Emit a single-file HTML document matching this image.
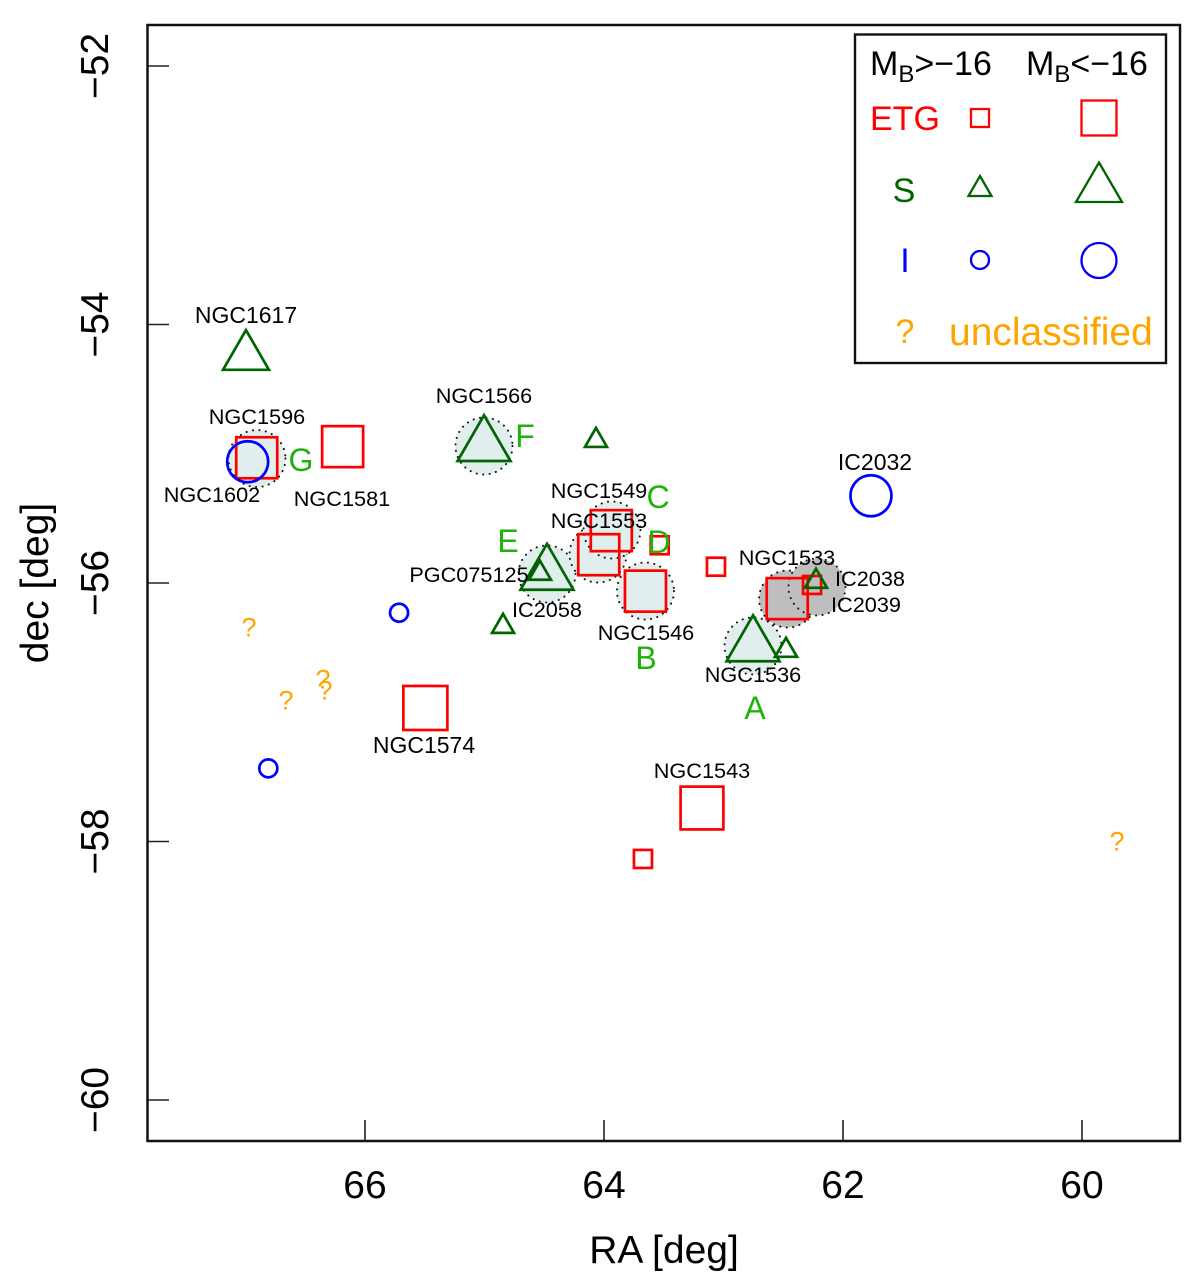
<!DOCTYPE html>
<html lang="en">
<head>
<meta charset="utf-8">
<title>Galaxy positions: RA vs dec</title>
<style>
html,body{margin:0;padding:0;background:#fff;}
svg{display:block;font-family:"Liberation Sans",Arial,sans-serif;}
.lab{font-size:21.7px;fill:#000;text-anchor:middle;}
.big{font-size:23px;}
.grp{font-size:32px;fill:#1eb30a;text-anchor:middle;}
.tick{font-size:39px;fill:#000;text-anchor:middle;}
.leg{font-size:34px;}
</style>
</head>
<body>
<svg id="chart" width="1200" height="1276" viewBox="0 0 1200 1276" xmlns="http://www.w3.org/2000/svg">
  <rect x="0" y="0" width="1200" height="1276" fill="#fff"/>
  <g id="shading"></g>
  <g id="marks"></g>
  <g id="axes"></g>
  <rect x="147.5" y="25" width="1032.5" height="1116" fill="none" stroke="#111" stroke-width="2.5"/>
  <text class="tick" x="664" y="1263">RA [deg]</text>
  <text class="tick" transform="translate(48,583) rotate(-90)">dec [deg]</text>

  <g>
    <text class="lab big" x="246" y="323">NGC1617</text>
    <text class="lab" x="484" y="403">NGC1566</text>
    <text class="lab" x="257" y="424">NGC1596</text>
    <text class="lab" x="212" y="502">NGC1602</text>
    <text class="lab" x="342" y="506">NGC1581</text>
    <text class="lab" x="469" y="582">PGC075125</text>
    <text class="lab" x="547" y="617">IC2058</text>
    <text class="lab" x="599" y="498">NGC1549</text>
    <text class="lab" x="599" y="528">NGC1553</text>
    <text class="lab" x="646" y="640">NGC1546</text>
    <text class="lab" x="787" y="565">NGC1533</text>
    <text class="lab" x="753" y="682">NGC1536</text>
    <text class="lab" x="870" y="586">IC2038</text>
    <text class="lab" x="866" y="612">IC2039</text>
    <text class="lab big" x="875" y="470">IC2032</text>
    <text class="lab big" x="424" y="753">NGC1574</text>
    <text class="lab" x="702" y="778">NGC1543</text>
  </g>

  <g>
    <text class="grp" x="755" y="719">A</text>
    <text class="grp" x="646" y="669">B</text>
    <text class="grp" x="658" y="508">C</text>
    <text class="grp" x="659" y="553">D</text>
    <text class="grp" x="508" y="552">E</text>
    <text class="grp" x="525" y="447">F</text>
    <text class="grp" x="301" y="471">G</text>
  </g>

  <g>
    <rect x="855" y="34.5" width="311" height="328.5" fill="#fff" stroke="#111" stroke-width="2.4"/>
    <text class="leg" x="870" y="75">M<tspan font-size="24" dy="7">B</tspan><tspan dy="-7">&gt;−16</tspan></text>
    <text class="leg" x="1026" y="75">M<tspan font-size="24" dy="7">B</tspan><tspan dy="-7">&lt;−16</tspan></text>
    <text class="leg" x="870" y="130" fill="#f00">ETG</text>
    <rect x="971" y="109" width="18" height="18" fill="none" stroke="#f00" stroke-width="2.3"/>
    <rect x="1081.5" y="100.5" width="35" height="35" fill="none" stroke="#f00" stroke-width="2.3"/>
    <text class="leg" x="904" y="202" fill="#006400" text-anchor="middle">S</text>
    <polygon points="980,176 991.5,196 968.5,196" fill="none" stroke="#006400" stroke-width="2.3"/>
    <polygon points="1099,162.5 1122,202 1076,202" fill="none" stroke="#006400" stroke-width="2.3"/>
    <text class="leg" x="905" y="272" fill="#00f" text-anchor="middle">I</text>
    <circle cx="980" cy="260" r="9" fill="none" stroke="#00f" stroke-width="2.3"/>
    <circle cx="1099" cy="260.5" r="17.5" fill="none" stroke="#00f" stroke-width="2.3"/>
    <text class="leg" x="905" y="343" fill="#ffa500" text-anchor="middle">?</text>
    <text x="949" y="345" font-size="39" fill="#ffa500">unclassified</text>
  </g>
</svg>
<script>
// Axis ticks
var raTicks = [66, 64, 62, 60];
var decTicks = [-52, -54, -56, -58, -60];

// Group halos
var haloRa = [66.904, 65.004, 64.477, 64.050, 63.933, 63.653, 62.753];
var haloDec = [-55.037, -54.940, -55.930, -55.776, -55.590, -56.062, -56.487];
var greyHaloRa = [62.464, 62.218];
var greyHaloDec = [-56.124, -56.031];

// Early-type galaxies
var etgFaintRa = [63.534, 63.063, 62.259, 63.674];
var etgFaintDec = [-55.708, -55.874, -56.015, -58.135];
var etgBrightRa = [66.906, 66.187, 63.939, 64.044, 63.653, 62.467, 65.495, 63.180];
var etgBrightDec = [-55.031, -54.945, -55.595, -55.781, -56.063, -56.121, -56.967, -57.741];
var etgBrightMag = [-19, -19, -19, -19, -19, -19, -20, -19.6];

// Spirals
var spiralFaintRa = [64.067, 64.536, 64.845, 62.477, 62.226];
var spiralFaintDec = [-54.898, -55.926, -56.337, -56.522, -55.988];
var spiralBrightRa = [66.996, 65.004, 64.477, 62.753];
var spiralBrightDec = [-54.248, -54.938, -55.934, -56.487];
var spiralBrightMag = [-19, -21.1, -21.1, -21.1];

// Irregulars
var irrFaintRa = [65.715, 66.809];
var irrFaintDec = [-56.230, -57.434];
var irrBrightRa = [66.982, 61.766];
var irrBrightDec = [-55.062, -55.325];
var irrBrightMag = [-19, -19];

// Unclassified
var unclassifiedRa = [66.971, 66.661, 66.351, 66.335, 59.707];
var unclassifiedDec = [-56.337, -56.901, -56.739, -56.824, -57.992];

var NS = 'http://www.w3.org/2000/svg';
function xScale(ra) { return 365 + (66 - ra) * 119.5; }
function yScale(dec) { return 66 + (-52 - dec) * 129.25; }
function brightSize(mag) { return 41 + (-19 - mag) * 3; }

function make(tag, parent, attrs) {
  var el = document.createElementNS(NS, tag);
  for (var k in attrs) { el.setAttribute(k, attrs[k]); }
  parent.appendChild(el);
  return el;
}

var axes = document.getElementById('axes');
var shading = document.getElementById('shading');
var marks = document.getElementById('marks');

raTicks.forEach(function (t) {
  var x = xScale(t);
  var line = make('line', axes, {x1: x, x2: x, y1: 1141, y2: 1120, stroke: '#222', 'stroke-width': 1.6});
  
  
  var label = make('text', axes, {x: x, y: 1198, 'class': 'tick'});
  label.textContent = String(t);
  
  
});

decTicks.forEach(function (t) {
  var y = yScale(t);
  var line = make('line', axes, {x1: 147.5, x2: 169, y1: y, y2: y, stroke: '#222', 'stroke-width': 1.6});
  
  
  var label = make('text', axes, {'class': 'tick', transform: 'translate(108,' + y + ') rotate(-90)'});
  label.textContent = '\u2212' + Math.abs(t);
  
  
});

function drawHalos(ras, decs, fill, name) {
  ras.forEach(function (ra, i) {
    var c = make('circle', shading, {
      cx: xScale(ra), cy: yScale(decs[i]), r: 28.5, fill: fill,
      stroke: '#111', 'stroke-width': 2, 'stroke-dasharray': '0.1 6.4', 'stroke-linecap': 'round'
    });
    
    
  });
}

function drawSquare(ra, dec, side, name) {
  var r = make('rect', marks, {
    x: xScale(ra) - side / 2, y: yScale(dec) - side / 2, width: side, height: side,
    fill: 'none', stroke: '#f00', 'stroke-width': 2.7
  });
  
  
}

function drawTriangle(ra, dec, side, name) {
  var x = xScale(ra), y = yScale(dec), h = side * 0.866;
  var pts = x + ',' + (y - h * 2 / 3) + ' ' + (x + side / 2) + ',' + (y + h / 3) + ' ' + (x - side / 2) + ',' + (y + h / 3);
  var p = make('polygon', marks, {points: pts, fill: 'none', stroke: '#006400', 'stroke-width': 2.7});
  
  
}

function drawCircle(ra, dec, r, name) {
  var c = make('circle', marks, {cx: xScale(ra), cy: yScale(dec), r: r, fill: 'none', stroke: '#00f', 'stroke-width': 2.7});
  
  
}

drawHalos(haloRa, haloDec, '#e0eeee', 'group-halo');
drawHalos(greyHaloRa, greyHaloDec, '#bebebe', 'grey-group-halo');

etgFaintRa.forEach(function (ra, i) { drawSquare(ra, etgFaintDec[i], 18, 'etg-faint-' + i); });
etgBrightRa.forEach(function (ra, i) { drawSquare(ra, etgBrightDec[i], brightSize(etgBrightMag[i]), 'etg-bright-' + i); });
spiralFaintRa.forEach(function (ra, i) { drawTriangle(ra, spiralFaintDec[i], 22, 'spiral-faint-' + i); });
spiralBrightRa.forEach(function (ra, i) { drawTriangle(ra, spiralBrightDec[i], brightSize(spiralBrightMag[i]) * 1.12, 'spiral-bright-' + i); });
irrFaintRa.forEach(function (ra, i) { drawCircle(ra, irrFaintDec[i], 9, 'irregular-faint-' + i); });
irrBrightRa.forEach(function (ra, i) { drawCircle(ra, irrBrightDec[i], brightSize(irrBrightMag[i]) / 2, 'irregular-bright-' + i); });

unclassifiedRa.forEach(function (ra, i) {
  var t = make('text', marks, {x: xScale(ra), y: yScale(unclassifiedDec[i]) + 10, 'font-size': 27, fill: '#ffa500', 'text-anchor': 'middle'});
  t.textContent = '?';
  
  
});
</script>
</body>
</html>
